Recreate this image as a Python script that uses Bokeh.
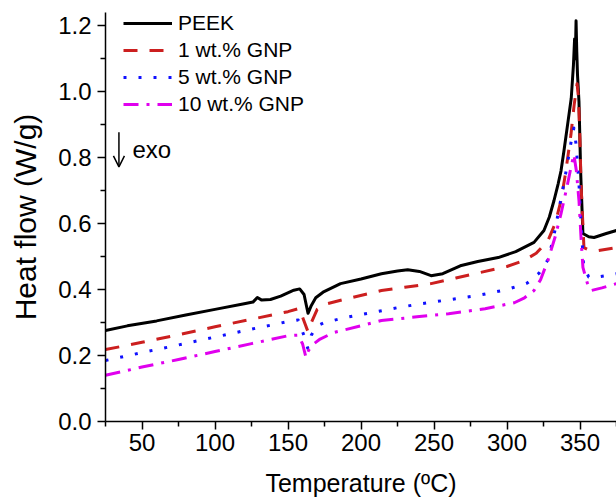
from bokeh.plotting import figure
from bokeh.models import (FixedTicker, PrintfTickFormatter, Legend, LegendItem, Label, Range1d,
                          Arrow, OpenHead)
from bokeh.embed import file_html
from bokeh.resources import INLINE

# ---- data ----
peek_T = [25, 40, 60, 80, 100, 120, 126, 129, 132, 138, 145, 154, 158, 161, 163.7, 166, 169, 174,
          186, 200, 214, 225, 232, 240, 248, 256, 268, 280, 294, 306, 318.5, 325.3, 329, 332.2, 335,
          337, 339, 341.5, 344, 345.5, 346.3, 346.8, 347.3, 347.8, 348.3, 349.3, 350.5, 352, 356,
          359.6, 368, 375]
peek_H = [0.276, 0.290, 0.305, 0.323, 0.340, 0.357, 0.362, 0.376, 0.368, 0.370, 0.380, 0.398, 0.402,
          0.385, 0.328, 0.352, 0.375, 0.392, 0.418, 0.432, 0.448, 0.456, 0.460, 0.455, 0.442, 0.448,
          0.472, 0.485, 0.497, 0.515, 0.543, 0.579, 0.62, 0.67, 0.72, 0.76, 0.82, 0.90, 0.98, 1.08,
          1.16, 1.10, 1.215, 1.12, 1.05, 0.97, 0.75, 0.57, 0.560, 0.558, 0.570, 0.579]

gnp1_T = [25, 50, 75, 100, 125, 150, 157.8, 160.5, 163.7, 166, 170, 175, 190, 214, 230, 248, 265,
          282, 300, 311.6, 320, 328, 333, 337, 340, 343.8, 346, 348, 349, 350, 350.7, 352.7, 356,
          362.3, 375]
gnp1_H = [0.218, 0.240, 0.263, 0.287, 0.310, 0.333, 0.343, 0.31, 0.272, 0.300, 0.340, 0.355, 0.372,
          0.397, 0.407, 0.418, 0.435, 0.452, 0.470, 0.488, 0.510, 0.548, 0.60, 0.67, 0.75, 0.87,
          0.96, 1.024, 0.98, 0.85, 0.72, 0.527, 0.520, 0.518, 0.527]

gnp5_T = [25, 50, 75, 100, 125, 150, 157, 161, 163.5, 166, 170, 175, 190, 207, 225, 241, 260, 280,
          300, 314, 322, 328, 332, 335, 338.5, 341.7, 344, 345.8, 347.3, 349.3, 351, 352.5, 356,
          359, 368, 375]
gnp5_H = [0.185, 0.209, 0.232, 0.256, 0.280, 0.303, 0.308, 0.26, 0.222, 0.262, 0.290, 0.300, 0.316,
          0.330, 0.345, 0.357, 0.369, 0.382, 0.400, 0.420, 0.450, 0.490, 0.56, 0.63, 0.71, 0.79,
          0.85, 0.89, 0.84, 0.72, 0.58, 0.47, 0.438, 0.436, 0.442, 0.448]

gnp10_T = [25, 50, 75, 100, 125, 150, 157, 160, 162.3, 164, 167.8, 172, 181.5, 200, 214, 240, 260,
           285, 305, 312, 318.5, 323, 328, 333, 337, 341, 343.8, 345.8, 347.5, 349.3, 350.8, 352,
           355, 357.5, 365, 375]
gnp10_H = [0.140, 0.165, 0.188, 0.212, 0.236, 0.260, 0.262, 0.235, 0.194, 0.215, 0.236, 0.250,
           0.270, 0.290, 0.306, 0.318, 0.327, 0.342, 0.360, 0.375, 0.397, 0.43, 0.488, 0.56, 0.63,
           0.71, 0.77, 0.81, 0.76, 0.67, 0.55, 0.467, 0.42, 0.397, 0.405, 0.418]

series_labels = ["PEEK", "1 wt.% GNP", "5 wt.% GNP", "10 wt.% GNP"]
x_ticks = [50, 100, 150, 200, 250, 300, 350]
x_minor = [25, 75, 125, 175, 225, 275, 325, 375]
y_ticks = [0.0, 0.2, 0.4, 0.6, 0.8, 1.0, 1.2]
y_minor = [0.1, 0.3, 0.5, 0.7, 0.9, 1.1]
x_title = "Temperature (\u00baC)"
y_title = "Heat flow (W/g)"
note_text = "exo"

FONT = "Liberation Sans"

p = figure(width=616, height=499, output_backend="svg", toolbar_location=None,
           x_range=Range1d(25, 375), y_range=Range1d(0, 1.24),
           min_border_left=105, min_border_right=0, min_border_top=12, min_border_bottom=78)
p.outline_line_color = None
p.grid.visible = False
p.background_fill_color = "white"
p.border_fill_color = "white"

styles = [
    dict(color="black", line_width=3, line_dash="solid"),
    dict(color="#cc1f1f", line_width=3, line_dash="14 12"),
    dict(color="#1010ff", line_width=3, line_dash="3 12"),
    dict(color="#e000ee", line_width=3, line_dash="15 8 3 8"),
]
data = [(peek_T, peek_H), (gnp1_T, gnp1_H), (gnp5_T, gnp5_H), (gnp10_T, gnp10_H)]
renderers = []
for (t, h), st in zip(data, styles):
    r = p.line(t, h, line_color=st["color"], line_width=st["line_width"], line_dash=st["line_dash"],
               line_join="round")
    renderers.append(r)

items = [LegendItem(label=lab, renderers=[r]) for lab, r in zip(series_labels, renderers)]
legend = Legend(items=items, location=(18, 305), orientation="vertical",
                label_text_font=FONT, label_text_font_size="21px", label_text_color="black",
                glyph_width=49, glyph_height=20, label_height=20, label_standoff=6, spacing=3,
                padding=0, margin=0, border_line_color=None, background_fill_alpha=0)
p.add_layout(legend)

for ax in (p.xaxis[0], p.yaxis[0]):
    ax.axis_line_width = 1.5
    ax.axis_line_color = "black"
    ax.major_tick_line_width = 1.5
    ax.minor_tick_line_width = 1.5
    ax.major_tick_out = 8
    ax.major_tick_in = 0
    ax.minor_tick_out = 5
    ax.minor_tick_in = 0
    ax.major_label_text_font = FONT
    ax.major_label_text_font_size = "24px"
    ax.major_label_text_color = "black"
    ax.axis_label_text_font = FONT
    ax.axis_label_text_font_style = "normal"
    ax.axis_label_text_color = "black"

p.xaxis[0].ticker = FixedTicker(ticks=x_ticks, minor_ticks=x_minor)
p.yaxis[0].ticker = FixedTicker(ticks=y_ticks, minor_ticks=y_minor)
p.yaxis[0].formatter = PrintfTickFormatter(format="%.1f")
p.xaxis[0].axis_label = x_title
p.yaxis[0].axis_label = y_title
p.xaxis[0].axis_label_text_font_size = "25px"
p.yaxis[0].axis_label_text_font_size = "30px"
p.xaxis[0].major_label_standoff = 4
p.yaxis[0].major_label_standoff = 6
p.xaxis[0].axis_label_standoff = 15
p.yaxis[0].axis_label_standoff = 13

# "↓ exo" annotation
p.add_layout(Arrow(x_start=34.2, y_start=0.877, x_end=34.2, y_end=0.772,
                   line_color="black", line_width=1.5,
                   end=OpenHead(size=11, line_color="black", line_width=1.5)))
p.add_layout(Label(x=43.5, y=0.826, text=note_text, x_units="data", y_units="data",
                   text_font=FONT, text_font_size="24px", text_color="black",
                   text_baseline="middle", text_align="left"))

open("out.html", "w").write(file_html(p, INLINE))
